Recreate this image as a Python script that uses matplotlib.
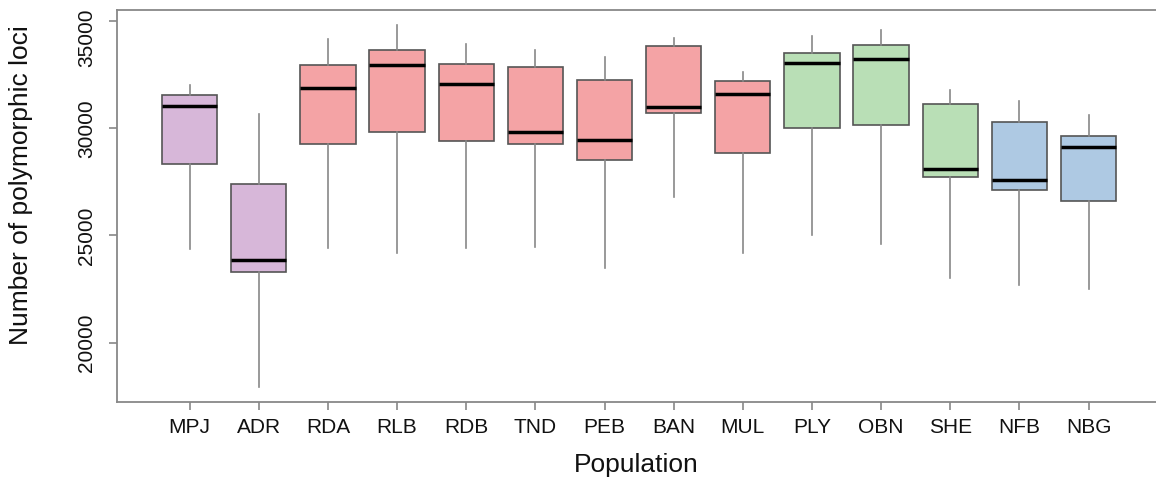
import matplotlib
matplotlib.use('Agg')
import matplotlib.pyplot as plt
from matplotlib.transforms import ScaledTranslation

plt.rcParams['font.family'] = ['Liberation Sans', 'DejaVu Sans']

# populations and box statistics
populations = ['MPJ', 'ADR', 'RDA', 'RLB', 'RDB', 'TND', 'PEB', 'BAN',
               'MUL', 'PLY', 'OBN', 'SHE', 'NFB', 'NBG']
whisker_low = [24350, 17940, 24400, 24200, 24430, 24460, 23470, 26810,
               24170, 25030, 24590, 23030, 22690, 22490]
q1 = [28350, 23310, 29280, 29810, 29420, 29270, 28540, 30710,
      28860, 30010, 30140, 27710, 27120, 26590]
median = [31030, 23840, 31880, 32950, 32050, 29830, 29450, 30990,
          31620, 33060, 33250, 28100, 27600, 29140]
q3 = [31540, 27420, 32970, 33640, 33000, 32880, 32270, 33840,
      32190, 33500, 33900, 31120, 30290, 29660]
whisker_high = [32010, 30650, 34180, 34840, 33920, 33670, 33310, 34200,
                32610, 34310, 34590, 31790, 31290, 30610]
groups = ['purple', 'purple', 'red', 'red', 'red', 'red', 'red', 'red',
          'red', 'green', 'green', 'green', 'blue', 'blue']
ytick_values = [20000, 25000, 30000, 35000]

colours = {'purple': '#d7b7d9', 'red': '#f4a3a5',
           'green': '#b9dfb6', 'blue': '#aec9e3'}

stats = []
for i, name in enumerate(populations):
    stats.append({'label': name, 'whislo': whisker_low[i], 'q1': q1[i],
                  'med': median[i], 'q3': q3[i], 'whishi': whisker_high[i],
                  'fliers': []})

fig = plt.figure(figsize=(11.56, 4.79), dpi=100)
ax = fig.add_axes([116.7 / 1156, 1 - 402.3 / 479, (1156 - 116.7) / 1156,
                   (402.3 - 10.3) / 479])

positions = list(range(1, len(populations) + 1))
bp = ax.bxp(stats, positions=positions, widths=0.8, patch_artist=True,
            showcaps=False,
            boxprops=dict(edgecolor='#555555', linewidth=1.2),
            whiskerprops=dict(color='#888888', linewidth=1.2),
            medianprops=dict(color='black', linewidth=2.5, solid_capstyle='butt'))
for patch, g in zip(bp['boxes'], groups):
    patch.set_facecolor(colours[g])

ax.set_xlim(-0.054, 14.975)
ax.set_ylim(17214, 35506)
ax.set_yticks(ytick_values)
ax.set_yticklabels([str(v) for v in ytick_values], rotation=90,
                   va='center', fontsize=15)
ax.set_xticks(positions)
ax.set_xticklabels(populations, fontsize=15)

for side in ['left', 'bottom', 'top']:
    ax.spines[side].set_color('#888888')
    ax.spines[side].set_linewidth(1.3)
ax.spines['right'].set_visible(False)
ax.tick_params(axis='both', direction='out', length=6, width=1.2,
               color='#888888', labelcolor='#111111')
ax.tick_params(axis='x', pad=5)
ax.tick_params(axis='y', pad=9)

# R keeps the top tick label inside the plot region
top_label = ax.get_yticklabels()[-1]
top_label.set_transform(top_label.get_transform() +
                        ScaledTranslation(0, -0.168, fig.dpi_scale_trans))

ax.set_xlabel('Population', fontsize=19, color='#111111', va='center')
ax.xaxis.set_label_coords(0.5, -0.16)
ax.set_ylabel('Number of polymorphic loci', fontsize=19, color='#111111',
              va='center')
ax.yaxis.set_label_coords(-0.092, 0.554)

fig.savefig('out.png', dpi=100)
